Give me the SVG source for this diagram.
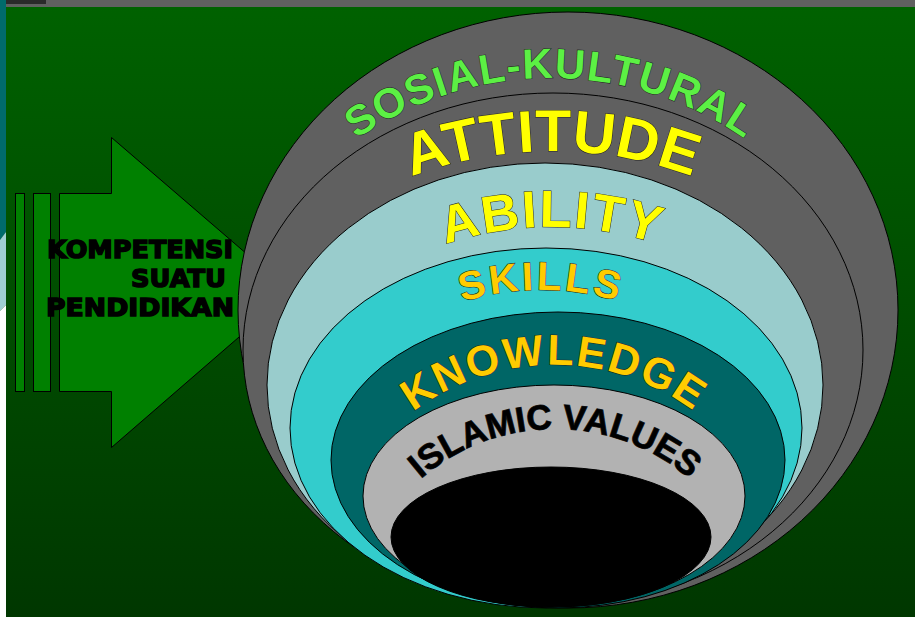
<svg xmlns="http://www.w3.org/2000/svg" xmlns:xlink="http://www.w3.org/1999/xlink" width="915" height="617" viewBox="0 0 915 617">
<defs>
<linearGradient id="bg" x1="0" y1="0" x2="0" y2="1">
<stop offset="0" stop-color="#006200"/>
<stop offset="1" stop-color="#003700"/>
</linearGradient>
<path id="arc1" d="M256.6,248 A340,340 0 0 1 845.4,248"/>
<path id="arc2" d="M269.2,268.2 A400,400 0 0 1 834.8,268.2"/>
<path id="arc3" d="M316.5,324.5 A333,333 0 0 1 787.5,324.5"/>
<path id="arc4" d="M352.9,367.9 A266,266 0 0 1 729.1,367.9"/>
<path id="arc5" d="M349,485 A235,235 0 0 1 759,485"/>
<path id="arc6" d="M356,581.7 A206,206 0 0 1 754,581.7"/>
</defs>
<style>
.ring{stroke:#000;stroke-width:1}
.arr{fill:#008000;stroke:#000;stroke-width:1}
.wa{font-family:"Liberation Sans",Arial,sans-serif;font-weight:bold;text-anchor:middle;stroke:#222;stroke-width:1;paint-order:stroke}
.komp{font-family:"DejaVu Sans","Liberation Sans",sans-serif;font-weight:bold;font-size:25px;fill:#000;stroke:#000;stroke-width:1.5}
</style>
<g id="background">
<rect x="0" y="0" width="915" height="617" fill="url(#bg)"/>
<rect x="0" y="0" width="915" height="7" fill="#606060"/>
<rect x="5" y="0" width="41" height="4" fill="#2a2a2a"/>
<polygon points="0,0 6,0 6,232 0,240" fill="#006b6b"/>
<polygon points="0,240 6,232 6,305 0,311" fill="#9fcfd3"/>
<polygon points="0,311 6,305 6,617 0,617" fill="#ffffff"/>
</g>
<g id="arrow">
<rect class="arr" x="15.5" y="193.5" width="9" height="198"/>
<rect class="arr" x="33.5" y="193.5" width="17" height="198"/>
<polygon class="arr" points="59.5,193.5 111.5,193.5 111.5,137.5 291,292 111.5,447.5 111.5,391.5 59.5,391.5"/>
<text class="komp" x="47" y="258" textLength="186" lengthAdjust="spacingAndGlyphs">KOMPETENSI</text>
<text class="komp" x="131" y="287" textLength="95" lengthAdjust="spacingAndGlyphs">SUATU</text>
<text class="komp" x="46" y="316" textLength="188" lengthAdjust="spacingAndGlyphs">PENDIDIKAN</text>
</g>
<g id="rings">
<ellipse id="ring-sosial" class="ring" cx="568" cy="310" rx="330" ry="298" fill="#606060"/>
<ellipse id="ring-attitude" class="ring" cx="553" cy="350" rx="310" ry="257" fill="#606060"/>
<ellipse id="ring-ability" class="ring" cx="545" cy="385" rx="278" ry="222" fill="#99cccc"/>
<ellipse id="ring-skills" class="ring" cx="546" cy="428" rx="256" ry="180" fill="#33cccc"/>
<ellipse id="ring-knowledge" class="ring" cx="558" cy="460" rx="227" ry="148" fill="#006666"/>
<ellipse id="ring-islamic" class="ring" cx="554" cy="496" rx="191" ry="111" fill="#b2b2b2"/>
<ellipse id="ring-core" class="ring" cx="551" cy="537" rx="160" ry="70" fill="#000000"/>
</g>
<g id="labels">
<text class="wa" font-size="42" fill="#5cf044" letter-spacing="1.2"><textPath xlink:href="#arc1" href="#arc1" startOffset="50%">SOSIAL-KULTURAL</textPath></text>
<text class="wa" font-size="59" fill="#ffff00"><textPath xlink:href="#arc2" href="#arc2" startOffset="50%">ATTITUDE</textPath></text>
<text class="wa" font-size="52" fill="#ffff00" letter-spacing="2"><textPath xlink:href="#arc3" href="#arc3" startOffset="50%">ABILITY</textPath></text>
<text class="wa" font-size="40" fill="#ffcc00" letter-spacing="3"><textPath xlink:href="#arc4" href="#arc4" startOffset="50%">SKILLS</textPath></text>
<text class="wa" font-size="43" fill="#ffcc00" letter-spacing="2"><textPath xlink:href="#arc5" href="#arc5" startOffset="50%">KNOWLEDGE</textPath></text>
<text class="wa" font-size="35" fill="#000000" stroke="none"><textPath xlink:href="#arc6" href="#arc6" startOffset="50%">ISLAMIC VALUES</textPath></text>
</g>
</svg>
